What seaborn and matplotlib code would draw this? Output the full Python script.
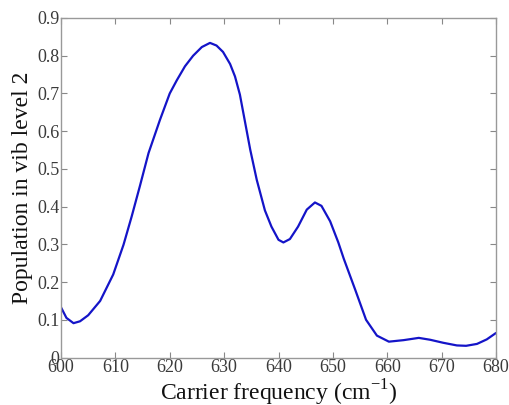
import matplotlib
matplotlib.use("Agg")
import matplotlib.pyplot as plt
import seaborn as sns
import pandas as pd

freq = [600.0, 601.0, 602.3, 603.5, 605.0, 607.2, 609.6, 611.5, 613.0, 614.5,
        616.1, 618.2, 620.0, 621.3, 622.8, 624.3, 625.9, 627.4, 628.6, 629.8,
        631.1, 632.0, 632.9, 634.8, 636.0, 637.5, 638.7, 640.0, 640.9, 642.1,
        643.6, 645.2, 646.7, 647.9, 649.5, 651.0, 652.0, 654.1, 656.1, 658.1,
        660.3, 663.0, 665.8, 667.9, 670.3, 672.8, 674.5, 676.5, 678.3, 680.0]
population = [0.133, 0.105, 0.091, 0.096, 0.112, 0.150, 0.220, 0.299, 0.374, 0.454,
              0.542, 0.630, 0.700, 0.735, 0.772, 0.800, 0.823, 0.834, 0.827, 0.810,
              0.778, 0.745, 0.697, 0.551, 0.471, 0.390, 0.347, 0.312, 0.305, 0.314,
              0.347, 0.392, 0.411, 0.402, 0.361, 0.305, 0.262, 0.180, 0.100, 0.058,
              0.042, 0.046, 0.052, 0.047, 0.039, 0.032, 0.031, 0.036, 0.048, 0.065]
xticks = [600, 610, 620, 630, 640, 650, 660, 670, 680]
yticks = [0, 0.1, 0.2, 0.3, 0.4, 0.5, 0.6, 0.7, 0.8, 0.9]
ytick_labels = ["0", "0.1", "0.2", "0.3", "0.4", "0.5", "0.6", "0.7", "0.8", "0.9"]

sns.set_style("white")
plt.rcParams['font.family'] = ['Liberation Serif', 'DejaVu Serif']
plt.rcParams['mathtext.fontset'] = 'custom'
plt.rcParams['mathtext.rm'] = 'Liberation Serif'

df = pd.DataFrame({"freq": freq, "pop": population})

fig = plt.figure(figsize=(5.1, 4.05), dpi=100)
ax = fig.add_axes([61/510, 1-357.5/405, (496-61)/510, (357.5-18)/405])
sns.lineplot(data=df, x="freq", y="pop", ax=ax, color="#1414c8", linewidth=1.6, sort=False)

ax.set_xlim(600, 680)
ax.set_ylim(0, 0.9)
ax.set_xticks(xticks)
ax.set_yticks(yticks)
ax.set_yticklabels(ytick_labels)
ax.tick_params(direction="in", length=4, width=0.8, color="#888888",
               labelsize=13, labelcolor="#3a3a3a", top=True, right=True,
               bottom=True, left=True, pad=1)
for s in ax.spines.values():
    s.set_visible(True)
    s.set_color("#999999")
    s.set_linewidth(1.0)

ax.set_xlabel(r"Carrier frequency (cm$^{-1}$)", fontsize=17, color="#111111", labelpad=1)
ax.set_ylabel("Population in vib level 2", fontsize=17, color="#111111", labelpad=3)

fig.savefig("out.png", dpi=100)
